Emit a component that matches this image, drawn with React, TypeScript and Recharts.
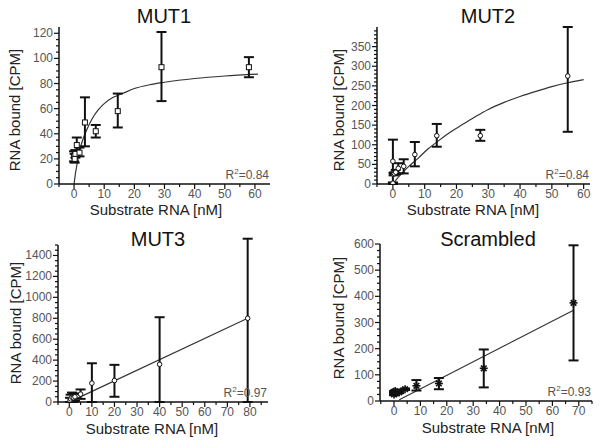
import { ComposedChart, Scatter, Line, XAxis, YAxis, ErrorBar } from "recharts";

// ---- MUT1 ----
const mut1X = [0, 0.2, 0.45, 0.9, 1.8, 3.6, 7.2, 14.5, 29, 58];
const mut1Y = [22, 20, 24, 31, 25, 49, 42, 58, 93, 93];
const mut1Lo = [18, 17, 21, 25, 22, 30, 37, 45, 66, 85];
const mut1Hi = [26, 24, 27, 37, 29, 69, 47, 72, 121, 101];
const mut1FitX = [0, 0.5, 1, 2, 3, 4, 6, 8, 10, 13, 16, 20, 25, 30, 40, 50, 61];
const mut1FitY = [0, 9, 16, 28, 36, 42, 52, 59, 64, 69, 72, 76, 79, 81, 84, 86, 87.5];

// ---- MUT2 ----
const mut2X = [0, 0, 0.2, 0.45, 0.9, 1.7, 3.4, 6.9, 13.8, 27.5, 55];
const mut2Y = [2, 58, 25, 27, 30, 40, 45, 75, 123, 123, 275];
const mut2Lo = [0, 2, 22, 24, 25, 27, 27, 45, 95, 110, 133];
const mut2Hi = [4, 113, 28, 30, 36, 53, 63, 107, 153, 138, 400];
const mut2FitX = [0, 2, 5, 8, 11, 14, 18, 22, 26, 30, 35, 40, 45, 50, 55, 60];
const mut2FitY = [0, 20, 45, 66, 89, 108, 132, 152, 172, 190, 208, 223, 236, 248, 258, 266];

// ---- MUT3 ----
const mut3X = [0.3, 0.6, 1.2, 1.8, 2.5, 5, 10, 20, 40, 79];
const mut3Y = [15, 30, 45, 40, 50, 75, 180, 205, 360, 800];
const mut3Lo = [0, 0, 0, 0, 10, 30, 0, 50, 0, 0];
const mut3Hi = [40, 70, 90, 80, 80, 120, 370, 355, 810, 1560];
const mut3FitX = [3, 79];
const mut3FitY = [30, 800];

// ---- Scrambled ----
const scrX = [0, 0, 0.3, 0.5, 1, 2, 4.2, 8.5, 17, 34, 68];
const scrY = [25, 35, 30, 38, 32, 33, 45, 58, 67, 125, 375];
const scrLo = [22, 32, 27, 35, 29, 30, 42, 40, 45, 52, 155];
const scrHi = [28, 38, 33, 41, 35, 36, 48, 80, 88, 197, 595];
const scrFitX = [2, 68];
const scrFitY = [5, 347];

const FONT = "Arial, 'Liberation Sans', sans-serif";

const toPoints = (xs: number[], ys: number[], lo: number[], hi: number[]) =>
  xs.map((x, i) => ({ x, y: ys[i], err: [ys[i] - lo[i], hi[i] - ys[i]] }));
const toFit = (xs: number[], ys: number[]) => xs.map((x, i) => ({ x, y: ys[i] }));

const range = (a: number, b: number, s: number) => {
  const out: number[] = [];
  for (let v = a; v <= b + 1e-9; v += s) out.push(Math.round(v * 1000) / 1000);
  return out;
};

const isMajor = (v: number, m: number) => Math.abs(v / m - Math.round(v / m)) < 1e-6;

function YTick(props: any) {
  const { x, y, payload, major } = props;
  const v = payload.value;
  const big = isMajor(v, major);
  return (
    <g>
      <line x1={x} x2={x - (big ? 5 : 3)} y1={y} y2={y} stroke="#111" strokeWidth={1.2} />
      {big && (
        <text x={x - 6} y={y} dy={4} textAnchor="end" fontSize={12} fill="#555" fontFamily={FONT}>
          {v}
        </text>
      )}
    </g>
  );
}

function XTick(props: any) {
  const { x, y, payload, major } = props;
  const v = payload.value;
  const big = isMajor(v, major);
  return (
    <g>
      <line x1={x} x2={x} y1={y} y2={y + (big ? 5 : 3)} stroke="#111" strokeWidth={1.2} />
      {big && v >= 0 && (
        <text x={x} y={y + 14} textAnchor="middle" fontSize={12} fill="#555" fontFamily={FONT}>
          {v}
        </text>
      )}
    </g>
  );
}

function Square(props: any) {
  const { cx, cy } = props;
  return <rect x={cx - 2.5} y={cy - 2.5} width={5} height={5} fill="#fff" stroke="#111" strokeWidth={1} />;
}
function Circle(props: any) {
  const { cx, cy } = props;
  return <circle cx={cx} cy={cy} r={2.3} fill="#fff" stroke="#111" strokeWidth={1} />;
}
function Star(props: any) {
  const { cx, cy } = props;
  const r = 4;
  return (
    <g stroke="#111" strokeWidth={1.6}>
      <line x1={cx - r} x2={cx + r} y1={cy} y2={cy} />
      <line x1={cx - r * 0.7} x2={cx + r * 0.7} y1={cy - r * 0.7} y2={cy + r * 0.7} />
      <line x1={cx - r * 0.7} x2={cx + r * 0.7} y1={cy + r * 0.7} y2={cy - r * 0.7} />
      <line x1={cx} x2={cx} y1={cy - r} y2={cy + r} />
    </g>
  );
}

type PanelProps = {
  left: number;
  top: number;
  title: string;
  r2: string;
  points: any[];
  fit: any[];
  xDomain: [number, number];
  yDomain: [number, number];
  xTicks: number[];
  xMajor: number;
  yTicks: number[];
  yMajor: number;
  shape: any;
  margin: { top: number; right: number; left: number; bottom: number };
  yAxisWidth: number;
  xAxisHeight: number;
  titleX: number;
  xLabel: { x: number; y: number };
  yLabel: { x: number; y: number };
};

function Panel(p: PanelProps) {
  const plotRight = 300 - p.margin.right;
  const plotBottom = 223 - p.margin.bottom - p.xAxisHeight;
  return (
    <div style={{ position: "absolute", left: p.left, top: p.top, width: 300, height: 223, fontFamily: FONT }}>
      <ComposedChart width={300} height={223} margin={p.margin}>
        <XAxis
          type="number"
          dataKey="x"
          domain={p.xDomain}
          allowDataOverflow
          ticks={p.xTicks}
          interval={0}
          tickSize={0}
          tickMargin={0}
          height={p.xAxisHeight}
          stroke="#111"
          strokeWidth={1.5}
          tick={(t: any) => <XTick {...t} major={p.xMajor} />}
        />
        <YAxis
          type="number"
          dataKey="y"
          domain={p.yDomain}
          allowDataOverflow
          ticks={p.yTicks}
          interval={0}
          tickSize={0}
          tickMargin={0}
          width={p.yAxisWidth}
          stroke="#111"
          strokeWidth={1.5}
          tick={(t: any) => <YTick {...t} major={p.yMajor} />}
        />
        <Line
          data={p.fit}
          dataKey="y"
          type="monotone"
          stroke="#333"
          strokeWidth={1.2}
          dot={false}
          activeDot={false}
          isAnimationActive={false}
        />
        <Scatter data={p.points} dataKey="y" shape={p.shape} isAnimationActive={false}>
          <ErrorBar dataKey="err" direction="y" width={5} stroke="#111" strokeWidth={2} />
        </Scatter>
      </ComposedChart>
      <div
        style={{
          position: "absolute",
          left: p.titleX - 60,
          width: 120,
          top: 5,
          lineHeight: "22px",
          textAlign: "center",
          fontSize: 20,
          color: "#111",
        }}
      >
        {p.title}
      </div>
      <div
        style={{
          position: "absolute",
          left: p.xLabel.x - 80,
          width: 160,
          top: p.xLabel.y - 8,
          lineHeight: "16px",
          textAlign: "center",
          fontSize: 15,
          color: "#222",
        }}
      >
        Substrate RNA [nM]
      </div>
      <div
        style={{
          position: "absolute",
          left: p.yLabel.x - 80,
          top: p.yLabel.y - 8,
          width: 160,
          lineHeight: "16px",
          textAlign: "center",
          fontSize: 15,
          color: "#222",
          transform: "rotate(-90deg)",
        }}
      >
        RNA bound [CPM]
      </div>
      <div
        style={{
          position: "absolute",
          right: 300 - plotRight + 1,
          top: plotBottom - 15,
          lineHeight: "13px",
          fontSize: 12,
          color: "#555",
        }}
      >
        R<sup style={{ fontSize: 8, lineHeight: 0 }}>2</sup>={p.r2}
      </div>
    </div>
  );
}

export default function App() {
  return (
    <div style={{ position: "absolute", left: 0, top: 0, width: 600, height: 446, background: "#fff" }}>
      <Panel
        left={0}
        top={0}
        title="MUT1"
        r2="0.84"
        points={toPoints(mut1X, mut1Y, mut1Lo, mut1Hi)}
        fit={toFit(mut1FitX, mut1FitY)}
        xDomain={[-5, 65]}
        yDomain={[0, 125]}
        xTicks={range(-5, 60, 5)}
        xMajor={10}
        yTicks={range(0, 120, 5)}
        yMajor={20}
        shape={Square}
        margin={{ top: 27, right: 30, left: 0, bottom: 0 }}
        yAxisWidth={59}
        xAxisHeight={39}
        titleX={164}
        xLabel={{ x: 156, y: 210 }}
        yLabel={{ x: 15, y: 110 }}
      />
      <Panel
        left={300}
        top={0}
        title="MUT2"
        r2="0.84"
        points={toPoints(mut2X, mut2Y, mut2Lo, mut2Hi)}
        fit={toFit(mut2FitX, mut2FitY)}
        xDomain={[-5, 62]}
        yDomain={[0, 400]}
        xTicks={range(-5, 60, 5)}
        xMajor={10}
        yTicks={range(0, 390, 10)}
        yMajor={50}
        shape={Circle}
        margin={{ top: 27, right: 10, left: 0, bottom: 0 }}
        yAxisWidth={77}
        xAxisHeight={39}
        titleX={188}
        xLabel={{ x: 173, y: 210 }}
        yLabel={{ x: 39, y: 110 }}
      />
      <Panel
        left={0}
        top={223}
        title="MUT3"
        r2="0.97"
        points={toPoints(mut3X, mut3Y, mut3Lo, mut3Hi)}
        fit={toFit(mut3FitX, mut3FitY)}
        xDomain={[-5, 88]}
        yDomain={[0, 1500]}
        xTicks={range(-5, 85, 5)}
        xMajor={10}
        yTicks={range(0, 1500, 50)}
        yMajor={200}
        shape={Circle}
        margin={{ top: 22, right: 32, left: 0, bottom: 0 }}
        yAxisWidth={58}
        xAxisHeight={44}
        titleX={158}
        xLabel={{ x: 152, y: 206 }}
        yLabel={{ x: 16, y: 100 }}
      />
      <Panel
        left={300}
        top={223}
        title="Scrambled"
        r2="0.93"
        points={toPoints(scrX, scrY, scrLo, scrHi)}
        fit={toFit(scrFitX, scrFitY)}
        xDomain={[-5.3, 75]}
        yDomain={[0, 600]}
        xTicks={range(-5, 75, 5)}
        xMajor={10}
        yTicks={range(0, 600, 25)}
        yMajor={100}
        shape={Star}
        margin={{ top: 21, right: 8, left: 0, bottom: 0 }}
        yAxisWidth={80}
        xAxisHeight={45}
        titleX={188}
        xLabel={{ x: 188, y: 205 }}
        yLabel={{ x: 39, y: 95 }}
      />
    </div>
  );
}
